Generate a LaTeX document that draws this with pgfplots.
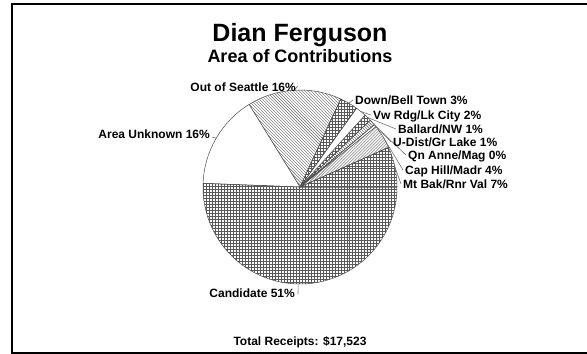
\documentclass[border=0pt]{standalone}
\usepackage{fontspec}
\setmainfont{Liberation Sans}
\usepackage{pgfplots}
\usepackage{pgfplotstable}
\pgfplotsset{compat=1.18}
\usetikzlibrary{patterns}

% slice shares (percent), counter-clockwise from 3 o'clock,
% label position (text anchor) and end of leader line in picture pixels
\pgfplotstableread[col sep=comma]{
name,pct,tx,ty,side,ex,ey
Mt Bak/Rnr Val,6.7,403,188,west,401,184
Cap Hill/Madr,4.0,405,174,west,403,170
Qn Anne/Mag,0.4,408,159,west,406,155
U-Dist/Gr Lake,1.0,393,146,west,391,142
Ballard/NW,1.2,398,133,west,396,129
Vw Rdg/Lk City,1.8,373,119,west,371,115
Down/Bell Town,3.0,355,104,west,353,100
Out of Seattle,15.7,296,91,east,298,86
Area Unknown,15.6,210,138,east,212,137
Candidate,50.6,295,297,east,298,294
}\piedata

\tikzset{
  wedge/.style={draw=black!70, line width=0.5bp},
  slice0/.style={wedge, pattern=grid, pattern color=black!65},
  slice1/.style={wedge, pattern=north east lines, pattern color=black!65},
  slice2/.style={wedge, fill=white},
  slice3/.style={wedge, pattern=north west lines, pattern color=black!65},
  slice4/.style={wedge, pattern=grid, pattern color=black!65},
  slice5/.style={wedge, fill=white},
  slice6/.style={wedge, pattern=grid, pattern color=black!65},
  slice7/.style={wedge, pattern=north west lines, pattern color=black!60},
  slice8/.style={wedge, fill=white},
  slice9/.style={wedge, pattern=grid, pattern color=black!65},
  leader/.style={draw=black!55, line width=0.6bp},
  lab/.style={inner sep=0pt, font=\bfseries\fontsize{12bp}{14bp}\selectfont},
}

\begin{document}
\begin{tikzpicture}
\begin{axis}[
    hide axis,
    x=1bp, y=1bp,
    xmin=0, xmax=587,
    ymin=0, ymax=354,
    y dir=reverse,
    clip=false,
  ]
  \pgfplotstablegetrowsof{\piedata}
  \pgfmathtruncatemacro\nrows{\pgfplotsretval-1}
  \def\angA{0}
  \pgfplotsforeachungrouped \i in {0,...,\nrows}{%
    \pgfplotstablegetelem{\i}{pct}\of\piedata \let\share\pgfplotsretval
    \pgfplotstablegetelem{\i}{name}\of\piedata \let\slname\pgfplotsretval
    \pgfplotstablegetelem{\i}{tx}\of\piedata \let\tx\pgfplotsretval
    \pgfplotstablegetelem{\i}{ty}\of\piedata \let\ty\pgfplotsretval
    \pgfplotstablegetelem{\i}{side}\of\piedata \let\side\pgfplotsretval
    \pgfplotstablegetelem{\i}{ex}\of\piedata \let\ex\pgfplotsretval
    \pgfplotstablegetelem{\i}{ey}\of\piedata \let\ey\pgfplotsretval
    \pgfmathsetmacro\angB{\angA+3.6*\share}
    \pgfmathsetmacro\angM{(\angA+\angB)/2}
    \pgfmathtruncatemacro\shr{round(\share)}
    \edef\cmd{%
      \noexpand\path[slice\i] (axis cs:300,187) -- ++(\angA:97bp)
        arc[start angle=\angA, end angle=\angB, radius=97bp] -- cycle;
      \noexpand\draw[leader] (axis cs:300,187) ++(\angM:97bp) -- (axis cs:\ex,\ey);
      \noexpand\node[lab, anchor=base \side] at (axis cs:\tx,\ty) {\slname\space\shr\noexpand\%};
    }\cmd
    \let\angA\angB
  }

  \node[anchor=base, font=\bfseries\fontsize{25bp}{30bp}\selectfont]
    at (axis cs:300,41) {Dian Ferguson};
  \node[anchor=base, font=\bfseries\fontsize{18bp}{22bp}\selectfont]
    at (axis cs:300,62) {Area of Contributions};
  \node[anchor=base, font=\bfseries\fontsize{12bp}{14bp}\selectfont]
    at (axis cs:300,345) {Total Receipts: \$17,523};

  \draw[line width=1.8bp] (axis cs:640,4) -| (axis cs:12,352.7) -- (axis cs:640,352.7);
\end{axis}
\pgfresetboundingbox
\useasboundingbox (0,0) rectangle (587bp,354bp);
\end{tikzpicture}
\end{document}
